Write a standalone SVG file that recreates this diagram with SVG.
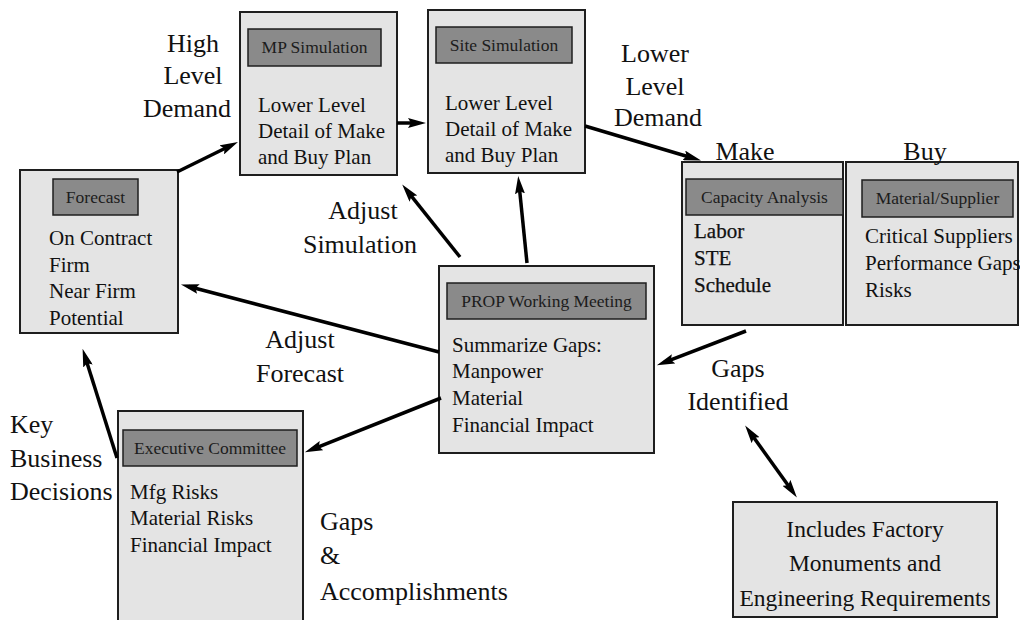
<svg xmlns="http://www.w3.org/2000/svg" width="1020" height="620" viewBox="0 0 1020 620">
  <style>
    .box { fill: #e4e4e4; stroke: #1e1e1e; stroke-width: 2; }
    .hdr { fill: #8a8a8a; stroke: #1e1e1e; stroke-width: 1.5; }
    .hdrtxt { font-family: "Liberation Serif", "Times New Roman", serif; font-size: 17.5px; fill: #1c1c1c; text-anchor: middle; }
    .body { font-family: "Liberation Serif", "Times New Roman", serif; font-size: 21px; fill: #111; }
    .heavy { stroke: #111; stroke-width: 0.25; }
    .lbl { font-family: "Liberation Serif", "Times New Roman", serif; font-size: 26px; fill: #111; }
    .mid { text-anchor: middle; }
    .conn line { stroke: #000; stroke-width: 3.5; }
  </style>
  <defs>
    <marker id="arrow" viewBox="0 0 18 10" refX="10" refY="5" markerWidth="18" markerHeight="10" markerUnits="userSpaceOnUse" orient="auto-start-reverse">
      <path d="M0,0 L18,5 L0,10 L3,5 z" fill="#000"/>
    </marker>
  </defs>
  <rect width="1020" height="620" fill="#fff"/>

  <!-- Forecast -->
  <g id="forecast">
    <rect class="box" x="20" y="170" width="158" height="163"/>
    <rect class="hdr" x="53" y="179" width="85" height="36"/>
    <text class="hdrtxt" x="95.5" y="203">Forecast</text>
    <text class="body" x="49" y="245">On Contract</text>
    <text class="body" x="49" y="272">Firm</text>
    <text class="body" x="49" y="298">Near Firm</text>
    <text class="body" x="49" y="325">Potential</text>
  </g>

  <!-- MP Simulation -->
  <g id="mp-simulation">
    <rect class="box" x="240" y="12" width="157" height="163"/>
    <rect class="hdr" x="248" y="29" width="133" height="37"/>
    <text class="hdrtxt" x="314.5" y="53">MP Simulation</text>
    <text class="body" x="258" y="112">Lower Level</text>
    <text class="body" x="258" y="138">Detail of Make</text>
    <text class="body" x="258" y="164">and Buy Plan</text>
  </g>

  <!-- Site Simulation -->
  <g id="site-simulation">
    <rect class="box" x="428" y="10" width="157" height="163"/>
    <rect class="hdr" x="436" y="27" width="136" height="36"/>
    <text class="hdrtxt" x="504" y="51">Site Simulation</text>
    <text class="body" x="445" y="110">Lower Level</text>
    <text class="body" x="445" y="136">Detail of Make</text>
    <text class="body" x="445" y="162">and Buy Plan</text>
  </g>

  <!-- Capacity Analysis (Make) -->
  <g id="capacity-analysis">
    <rect class="box" x="682" y="162" width="161" height="163"/>
    <rect class="hdr" x="686" y="179" width="157" height="36"/>
    <text class="hdrtxt" x="764.5" y="203">Capacity Analysis</text>
    <text class="body heavy" x="694" y="238">Labor</text>
    <text class="body heavy" x="694" y="265">STE</text>
    <text class="body heavy" x="694" y="292">Schedule</text>
  </g>

  <!-- Material/Supplier (Buy) -->
  <g id="material-supplier">
    <rect class="box" x="846" y="162" width="172" height="163"/>
    <rect class="hdr" x="862" y="180" width="151" height="37"/>
    <text class="hdrtxt" x="937.5" y="204">Material/Supplier</text>
    <text class="body" x="865" y="243">Critical Suppliers</text>
    <text class="body" x="865" y="270">Performance Gaps</text>
    <text class="body" x="865" y="297">Risks</text>
  </g>

  <!-- PROP Working Meeting -->
  <g id="prop-meeting">
    <rect class="box" x="439" y="266" width="215" height="187"/>
    <rect class="hdr" x="447" y="283" width="199" height="36"/>
    <text class="hdrtxt" x="546.5" y="307">PROP Working Meeting</text>
    <text class="body" x="452" y="352">Summarize Gaps:</text>
    <text class="body" x="452" y="378">Manpower</text>
    <text class="body" x="452" y="405">Material</text>
    <text class="body" x="452" y="432">Financial Impact</text>
  </g>

  <!-- Executive Committee -->
  <g id="executive-committee">
    <rect class="box" x="118" y="411" width="185" height="215"/>
    <rect class="hdr" x="123" y="430" width="174" height="36"/>
    <text class="hdrtxt" x="210" y="454">Executive Committee</text>
    <text class="body" x="130" y="499">Mfg Risks</text>
    <text class="body" x="130" y="525">Material Risks</text>
    <text class="body" x="130" y="552">Financial Impact</text>
  </g>

  <!-- Factory monuments note -->
  <g id="factory-requirements">
    <rect class="box" x="733" y="502" width="264" height="115"/>
    <text class="lbl mid" x="865" y="537" style="font-size:23.5px">Includes Factory</text>
    <text class="lbl mid" x="865" y="571" style="font-size:23.5px">Monuments and</text>
    <text class="lbl mid" x="865" y="606" style="font-size:23.5px">Engineering Requirements</text>
  </g>

  <!-- Free-standing labels -->
  <g id="labels">
    <text class="lbl mid" x="193" y="52">High</text>
    <text class="lbl mid" x="193" y="84">Level</text>
    <text class="lbl mid" x="187" y="117">Demand</text>

    <text class="lbl mid" x="655" y="62">Lower</text>
    <text class="lbl mid" x="655" y="95">Level</text>
    <text class="lbl mid" x="658" y="126">Demand</text>

    <text class="lbl mid" x="745" y="160">Make</text>
    <text class="lbl mid" x="925" y="160">Buy</text>

    <text class="lbl mid" x="363" y="219">Adjust</text>
    <text class="lbl mid" x="360" y="253">Simulation</text>

    <text class="lbl mid" x="300" y="348">Adjust</text>
    <text class="lbl mid" x="300" y="382">Forecast</text>

    <text class="lbl mid" x="738" y="377">Gaps</text>
    <text class="lbl mid" x="738" y="410">Identified</text>

    <text class="lbl" x="10" y="433">Key</text>
    <text class="lbl" x="10" y="467">Business</text>
    <text class="lbl" x="10" y="500">Decisions</text>

    <text class="lbl" x="320" y="530">Gaps</text>
    <text class="lbl" x="320" y="564">&amp;</text>
    <text class="lbl" x="320" y="600">Accomplishments</text>
  </g>

  <!-- Connectors -->
  <g id="connectors" class="conn">
    <line x1="177" y1="172" x2="230.8" y2="145.5" marker-end="url(#arrow)"/>
    <line x1="397" y1="123" x2="418" y2="123" marker-end="url(#arrow)"/>
    <line x1="585" y1="126" x2="693.4" y2="158.2" marker-end="url(#arrow)"/>
    <line x1="527" y1="263" x2="519" y2="184" marker-end="url(#arrow)"/>
    <line x1="460" y1="257" x2="407.2" y2="190.8" marker-end="url(#arrow)"/>
    <line x1="439" y1="352" x2="188.7" y2="286.5" marker-end="url(#arrow)"/>
    <line x1="441" y1="398" x2="312.3" y2="449.3" marker-end="url(#arrow)"/>
    <line x1="746" y1="331" x2="664.3" y2="362.4" marker-end="url(#arrow)"/>
    <line x1="749.8" y1="432.1" x2="792.2" y2="490.9" marker-start="url(#arrow)" marker-end="url(#arrow)"/>
    <line x1="117" y1="458" x2="85" y2="356.5" marker-end="url(#arrow)"/>
  </g>
</svg>
